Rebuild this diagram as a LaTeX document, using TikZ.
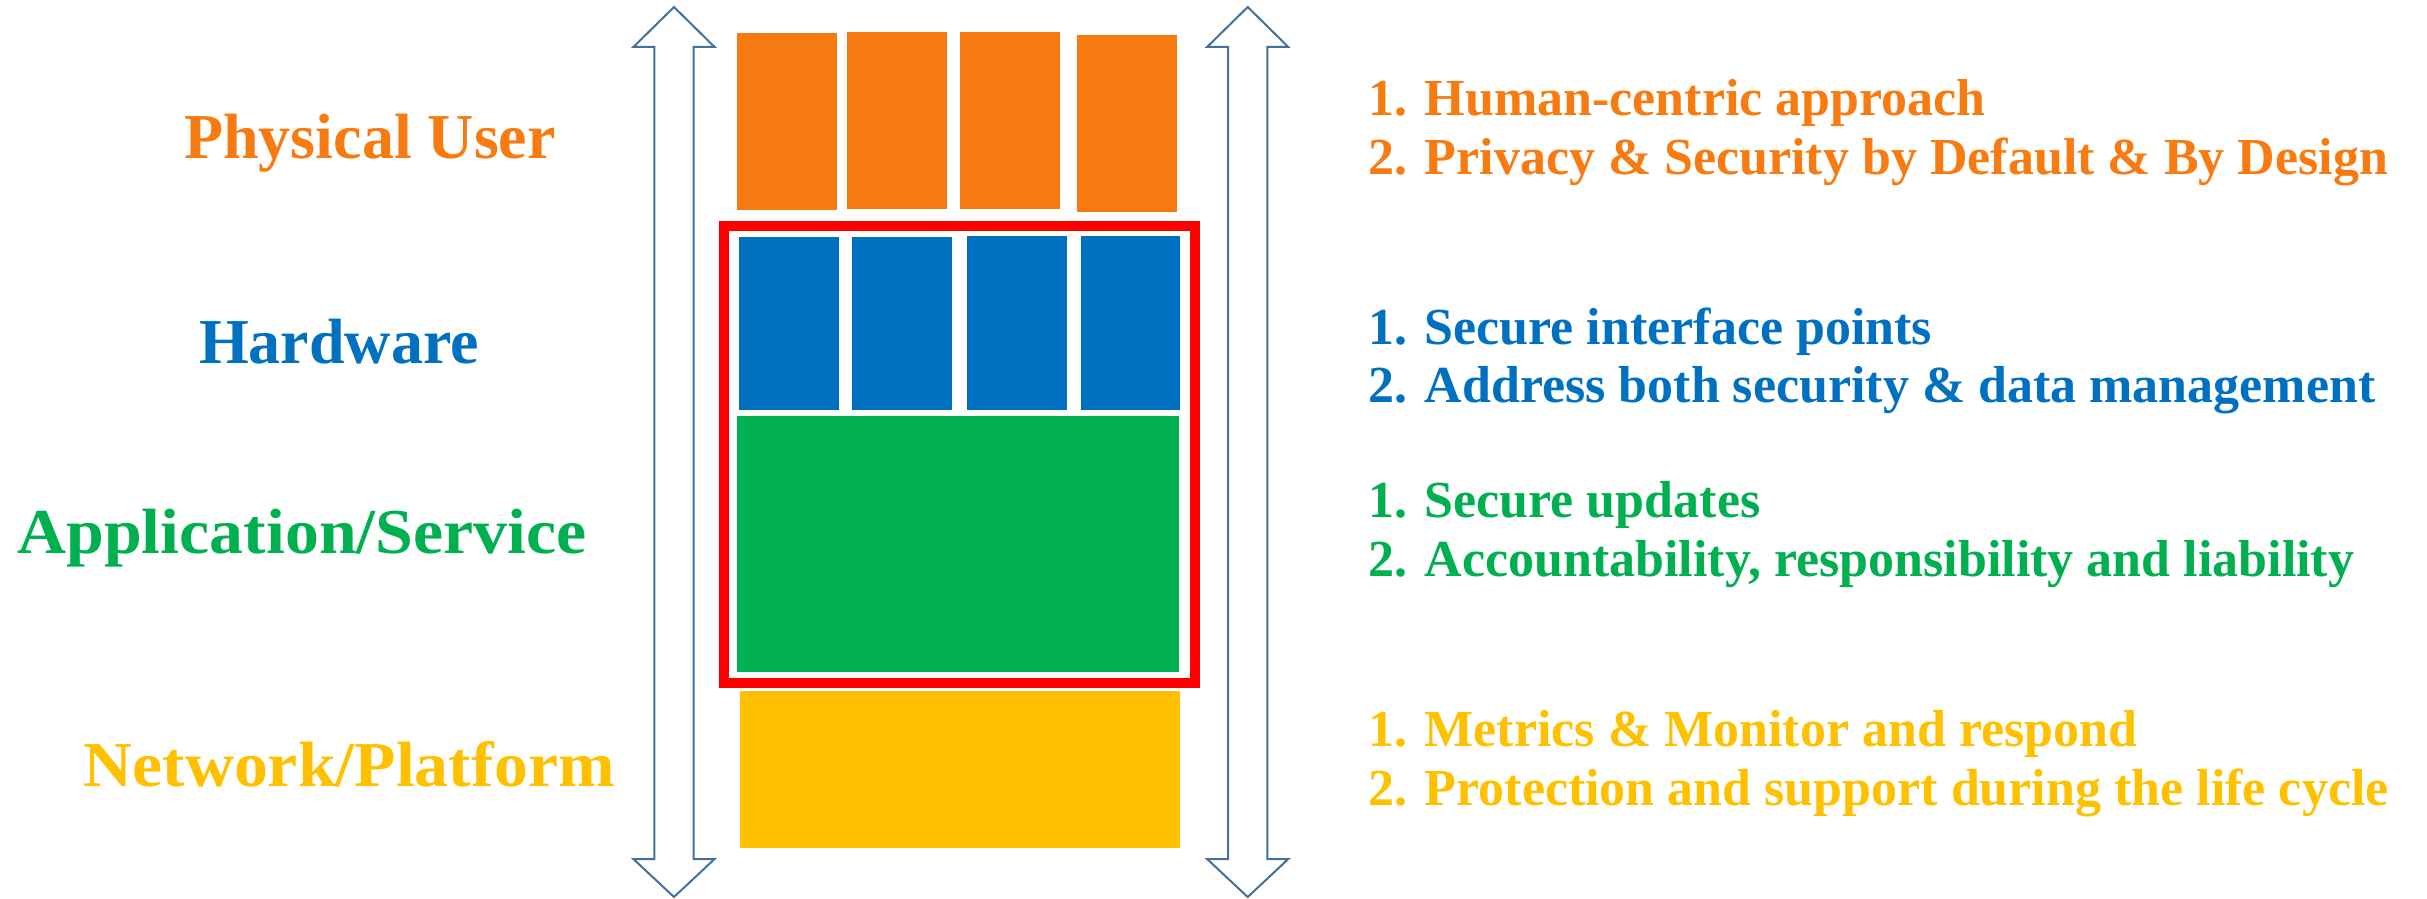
\documentclass[tikz,border=0pt]{standalone}
\usepackage{fontspec}
\setmainfont{Liberation Serif}
\definecolor{userorange}{RGB}{248,123,18}
\definecolor{hwblue}{RGB}{0,112,192}
\definecolor{appgreen}{RGB}{0,176,80}
\definecolor{netyellow}{RGB}{255,192,0}
\definecolor{arrowblue}{RGB}{65,113,156}
\tikzset{
  layer/.style={font=\fontsize{32}{38}\selectfont\bfseries, anchor=base, inner sep=0},
  point/.style={font=\fontsize{26}{30}\selectfont\bfseries, anchor=base west, inner sep=0},
  updown/.style={draw=arrowblue, line width=1pt, fill=white}
}
\begin{document}
\begin{tikzpicture}[x=0.5pt,y=-0.5pt]
  \useasboundingbox (0,0) rectangle (2427,899);
  % up/down arrows
  \foreach \c in {674,1247.7}
    \draw[updown] (\c,7) -- (\c+40.6,47) -- (\c+19.6,47) -- (\c+19.6,859)
      -- (\c+40.6,859) -- (\c,897) -- (\c-40.6,859) -- (\c-19.6,859)
      -- (\c-19.6,47) -- (\c-40.6,47) -- cycle;
  % stack
  \begin{scope}
    \fill[userorange] (737,33) rectangle (836.6,210);
    \fill[userorange] (846.9,32) rectangle (946.9,209);
    \fill[userorange] (959.8,32) rectangle (1059.8,209);
    \fill[userorange] (1076.8,35) rectangle (1176.7,212);
    \fill[hwblue] (739,237) rectangle (839,410);
    \fill[hwblue] (852,237) rectangle (952,410);
    \fill[hwblue] (967,236) rectangle (1067,410);
    \fill[hwblue] (1080.8,236) rectangle (1180.3,410);
    \fill[appgreen] (737,416) rectangle (1179.4,672);
    \fill[netyellow] (740,691) rectangle (1180,848);
    \draw[red, line width=5pt] (723.6,225.5) rectangle (1195,682.5);
  \end{scope}
  % layer names
  \node[layer, text=userorange] (user) at (370,159) {Physical User};
  \node[layer, text=hwblue] (hw) at (339,363) {Hardware};
  \node[layer, text=appgreen, xscale=1.06] (app) at (302,553) {Application/Service};
  \node[layer, text=netyellow, xscale=1.06] (net) at (349,786) {Network/Platform};
  % principles
  \node[point, text=userorange] (user1) at (1368,116) {1. Human-centric approach};
  \node[point, text=userorange] (user2) at (1368,175) {2. Privacy \& Security by Default \& By Design};
  \node[point, text=hwblue] (hw1) at (1368,344) {1. Secure interface points};
  \node[point, text=hwblue] (hw2) at (1368,402) {2. Address both security \& data management};
  \node[point, text=appgreen] (app1) at (1368,517) {1. Secure updates};
  \node[point, text=appgreen] (app2) at (1368,576) {2. Accountability, responsibility and liability};
  \node[point, text=netyellow] (net1) at (1368,746) {1. Metrics \& Monitor and respond};
  \node[point, text=netyellow] (net2) at (1368,805) {2. Protection and support during the life cycle};
\end{tikzpicture}
\end{document}
